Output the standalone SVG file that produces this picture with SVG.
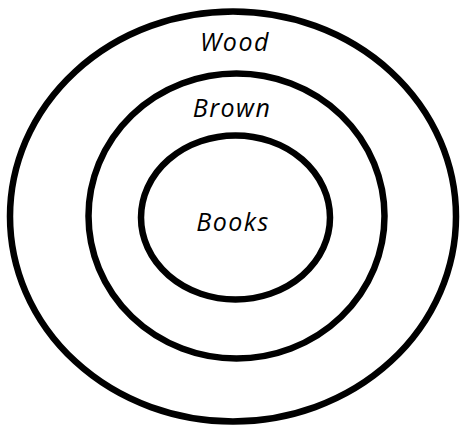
<svg xmlns="http://www.w3.org/2000/svg" width="461" height="426" viewBox="0 0 461 426">
<style>
.ring{fill:none;stroke:#000;stroke-width:6.5}
.lbl{font-family:"Open Sans","Liberation Sans",sans-serif;font-style:italic;font-size:25px;letter-spacing:1.5px;fill:#000;text-anchor:middle}
</style>
<rect width="461" height="426" fill="#fff"/>
<g id="wood">
<ellipse class="ring" cx="233" cy="216.5" rx="223" ry="205"/>
<text class="lbl" x="235" y="51">Wood</text>
</g>
<g id="brown">
<ellipse class="ring" cx="236.5" cy="216" rx="148" ry="142.5"/>
<text class="lbl" x="232" y="117">Brown</text>
</g>
<g id="books">
<ellipse class="ring" cx="235.5" cy="217.5" rx="94.5" ry="82"/>
<text class="lbl" x="233" y="231">Books</text>
</g>
<g id="connectors"/>
</svg>
